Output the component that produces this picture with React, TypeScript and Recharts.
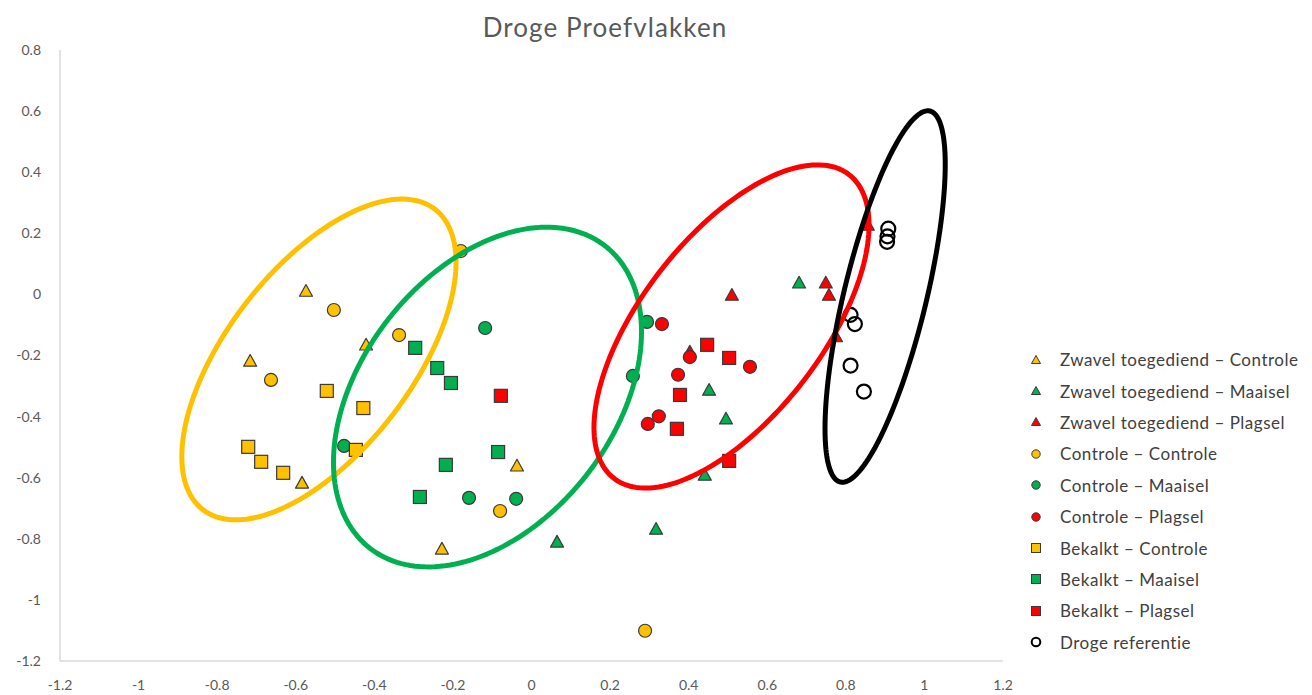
import React from 'react';
import { ScatterChart, Scatter, XAxis, YAxis } from 'recharts';

const FONT = 'Lato, "Open Sans", sans-serif';
const TITLE = 'Droge Proefvlakken';

const xTicks = [-1.2, -1, -0.8, -0.6, -0.4, -0.2, 0, 0.2, 0.4, 0.6, 0.8, 1, 1.2];
const yTicks = [-1.2, -1, -0.8, -0.6, -0.4, -0.2, 0, 0.2, 0.4, 0.6, 0.8];

// [x, y] pairs per series
const zwavelControle = [[-0.574, 0.011], [-0.716, -0.218], [-0.421, -0.165], [-0.584, -0.617], [-0.037, -0.561], [-0.228, -0.833]];
const zwavelMaaisel = [[0.681, 0.038], [0.452, -0.313], [0.495, -0.407], [0.441, -0.591], [0.317, -0.768], [0.065, -0.81]];
const zwavelPlagsel = [[0.51, -0.002], [0.749, 0.038], [0.757, -0.002], [0.775, -0.138], [0.403, -0.188], [0.856, 0.227]];
const controleControle = [[-0.503, -0.051], [-0.663, -0.28], [-0.337, -0.133], [-0.18, 0.142], [-0.08, -0.709], [0.289, -1.101]];
const controleMaaisel = [[-0.118, -0.11], [-0.477, -0.496], [-0.159, -0.666], [-0.039, -0.669], [0.294, -0.09], [0.258, -0.267]];
const controlePlagsel = [[0.332, -0.097], [0.403, -0.205], [0.373, -0.263], [0.556, -0.237], [0.324, -0.399], [0.296, -0.424]];
const bekalktControle = [[-0.521, -0.316], [-0.428, -0.372], [-0.721, -0.499], [-0.688, -0.548], [-0.632, -0.584], [-0.447, -0.509]];
const bekalktMaaisel = [[-0.296, -0.175], [-0.24, -0.241], [-0.205, -0.29], [-0.085, -0.516], [-0.218, -0.558], [-0.284, -0.663]];
const bekalktPlagsel = [[-0.078, -0.332], [0.447, -0.165], [0.503, -0.208], [0.378, -0.329], [0.37, -0.44], [0.503, -0.545]];
const drogeReferentie = [[0.908, 0.215], [0.906, 0.19], [0.905, 0.172], [0.812, -0.067], [0.823, -0.097], [0.812, -0.233], [0.846, -0.318]];

const YELLOW = '#FFC000';
const GREEN = '#00B050';
const RED = '#FF0000';

type ShapeKind = 'triangle' | 'circle' | 'square' | 'open';

const series: { name: string; data: number[][]; kind: ShapeKind; color: string }[] = [
  { name: 'Zwavel toegediend – Controle', data: zwavelControle, kind: 'triangle', color: YELLOW },
  { name: 'Zwavel toegediend – Maaisel', data: zwavelMaaisel, kind: 'triangle', color: GREEN },
  { name: 'Zwavel toegediend – Plagsel', data: zwavelPlagsel, kind: 'triangle', color: RED },
  { name: 'Controle – Controle', data: controleControle, kind: 'circle', color: YELLOW },
  { name: 'Controle – Maaisel', data: controleMaaisel, kind: 'circle', color: GREEN },
  { name: 'Controle – Plagsel', data: controlePlagsel, kind: 'circle', color: RED },
  { name: 'Bekalkt – Controle', data: bekalktControle, kind: 'square', color: YELLOW },
  { name: 'Bekalkt – Maaisel', data: bekalktMaaisel, kind: 'square', color: GREEN },
  { name: 'Bekalkt – Plagsel', data: bekalktPlagsel, kind: 'square', color: RED },
  { name: 'Droge referentie', data: drogeReferentie, kind: 'open', color: '#000000' },
];

// Group ellipses in data units: center, half-width (x), half-height (y), y-offset of the rightmost point
const ellipseCenters = [[-0.541, -0.213], [-0.112, -0.336], [0.509, -0.105], [0.9, -0.007]];
const ellipseHalfWidths = [0.349, 0.392, 0.35, 0.153];
const ellipseHalfHeights = [0.525, 0.556, 0.529, 0.608];
const ellipseRightY = [0.318, 0.214, 0.331, 0.432];
const ellipseColors = [YELLOW, GREEN, RED, '#000000'];

const ellipsePoints = (i: number) => {
  const [cx, cy] = ellipseCenters[i];
  const hw = ellipseHalfWidths[i];
  const hh = ellipseHalfHeights[i];
  const yr = ellipseRightY[i];
  const k = Math.sqrt(hh * hh - yr * yr);
  const pts: { x: number; y: number }[] = [];
  const N = 180;
  for (let j = 0; j <= N; j++) {
    const t = (2 * Math.PI * j) / N;
    pts.push({ x: cx + hw * Math.cos(t), y: cy + yr * Math.cos(t) + k * Math.sin(t) });
  }
  return pts;
};

const MarkerShape = (kind: ShapeKind, color: string, size: number) => (props: any) => {
  const { cx, cy } = props;
  if (cx == null || cy == null) return <g />;
  const h = size / 2;
  const stroke = '#3a3a3a';
  if (kind === 'triangle') {
    const pts = `${cx},${cy - h} ${cx + h},${cy + h * 0.8} ${cx - h},${cy + h * 0.8}`;
    return <polygon points={pts} fill={color} stroke={stroke} strokeWidth={1.2} strokeLinejoin="round" />;
  }
  if (kind === 'circle') {
    return <circle cx={cx} cy={cy} r={h} fill={color} stroke={stroke} strokeWidth={1.2} />;
  }
  if (kind === 'square') {
    return <rect x={cx - h} y={cy - h} width={size} height={size} fill={color} stroke={stroke} strokeWidth={1.2} />;
  }
  return <circle cx={cx} cy={cy} r={h} fill="none" stroke="#000" strokeWidth={2.2} />;
};

const LegendIcon = ({ kind, color }: { kind: ShapeKind; color: string }) => {
  const s = 9;
  const c = 6;
  let el: any;
  if (kind === 'triangle') el = <polygon points={`${c},${c - 4.5} ${c + 4.5},${c + 3.5} ${c - 4.5},${c + 3.5}`} fill={color} stroke="#3a3a3a" strokeWidth={1} />;
  else if (kind === 'circle') el = <circle cx={c} cy={c} r={4.2} fill={color} stroke="#3a3a3a" strokeWidth={1} />;
  else if (kind === 'square') el = <rect x={c - s / 2} y={c - s / 2} width={s} height={s} fill={color} stroke="#3a3a3a" strokeWidth={1} />;
  else el = <circle cx={c} cy={c} r={4.3} fill="none" stroke="#000" strokeWidth={2} />;
  return (
    <svg width={12} height={12} style={{ display: 'block' }}>
      {el}
    </svg>
  );
};

export default function App() {
  return (
    <div style={{ position: 'absolute', left: 0, top: 0, width: 1312, height: 695, background: '#fff', fontFamily: FONT }}>
      <div
        style={{
          position: 'absolute',
          left: 0,
          width: 1210,
          top: 11,
          textAlign: 'center',
          fontSize: 26,
          letterSpacing: 1.1,
          color: '#595959',
          fontFamily: FONT,
        }}
      >
        {TITLE}
      </div>
      <ScatterChart
        width={1312}
        height={695}
        margin={{ top: 50, right: 309, bottom: 0, left: 0 }}
        style={{ fontFamily: FONT }}
      >
        <XAxis
          type="number"
          dataKey="x"
          domain={[-1.2, 1.2]}
          ticks={xTicks}
          interval={0}
          allowDataOverflow
          height={34}
          tickSize={0}
          tickMargin={19}
          tickLine={false}
          axisLine={{ stroke: '#d9d9d9', strokeWidth: 1.5 }}
          tick={{ fill: '#595959', fontSize: 14, fontFamily: FONT }}
        />
        <YAxis
          type="number"
          dataKey="y"
          domain={[-1.2, 0.8]}
          ticks={yTicks}
          interval={0}
          allowDataOverflow
          width={60}
          tickSize={0}
          tickMargin={19}
          tickLine={false}
          axisLine={{ stroke: '#d9d9d9', strokeWidth: 1.5 }}
          tick={{ fill: '#595959', fontSize: 14, fontFamily: FONT }}
        />
        {series.map((s) => (
          <Scatter
            key={s.name}
            name={s.name}
            data={s.data.map(([x, y]) => ({ x, y }))}
            fill={s.color}
            shape={MarkerShape(s.kind, s.color, s.kind === 'open' ? 14 : 13)}
            isAnimationActive={false}
          />
        ))}
        {ellipseColors.map((color, i) => (
          <Scatter
            key={'ellipse' + i}
            data={ellipsePoints(i)}
            line={{ stroke: color, strokeWidth: 5, fill: 'none', strokeLinejoin: 'round' }}
            lineType="joint"
            shape={() => <g />}
            legendType="none"
            isAnimationActive={false}
          />
        ))}
      </ScatterChart>
      <div style={{ position: 'absolute', left: 1030, top: 344 }}>
        {series.map((s) => (
          <div key={s.name} style={{ display: 'flex', alignItems: 'center', height: 31.4 }}>
            <LegendIcon kind={s.kind} color={s.color} />
            <span style={{ marginLeft: 18, fontSize: 17, letterSpacing: 0.5, color: '#404040', fontFamily: FONT, whiteSpace: 'nowrap' }}>{s.name}</span>
          </div>
        ))}
      </div>
    </div>
  );
}
